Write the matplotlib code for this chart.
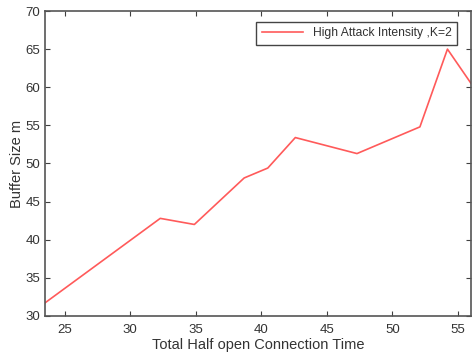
import numpy as np
import matplotlib.pyplot as plt

plt.rcParams['font.family'] = ['Liberation Sans', 'DejaVu Sans']

# connection time vs buffer size, high attack intensity
conn_time = [23.5, 32.3, 34.9, 38.7, 40.5, 42.6, 47.3, 52.1, 54.2, 56.0]
buffer_size = [31.7, 42.8, 42.0, 48.1, 49.4, 53.4, 51.3, 54.8, 65.0, 60.5]

grey = '#404040'

fig = plt.figure(figsize=(4.72, 3.55), dpi=100)
ax = fig.add_axes([0.095, 0.11, 0.903, 0.859])
ax.plot(conn_time, buffer_size, color='#ff5a5a', lw=1.2, label='High Attack Intensity ,K=2')

ax.set_xlim(23.5, 56)
ax.set_ylim(30, 70)
ax.set_xticks([25, 30, 35, 40, 45, 50, 55])
ax.set_yticks(np.arange(30, 71, 5))
ax.tick_params(direction='in', top=True, right=True, length=3.5, width=0.8,
               colors=grey, labelsize=9.5, labelcolor='#333333')
ax.tick_params(axis='x', pad=6)
for s in ax.spines.values():
    s.set_color('#555555')
    s.set_linewidth(1.2)

ax.set_xlabel('Total Half open Connection Time', fontsize=10.5, color='#333333', labelpad=1)
ax.set_ylabel('Buffer Size m', fontsize=10.5, color='#333333', labelpad=1)

leg = ax.legend(loc='upper right', fontsize=8.7, fancybox=False, framealpha=1,
                edgecolor='#444444', handlelength=3.4, borderpad=0.45,
                borderaxespad=0, bbox_to_anchor=(0.967, 0.964))
leg.get_frame().set_linewidth(1.0)
for t in leg.get_texts():
    t.set_color('#333333')

fig.savefig('out.png', dpi=100)
